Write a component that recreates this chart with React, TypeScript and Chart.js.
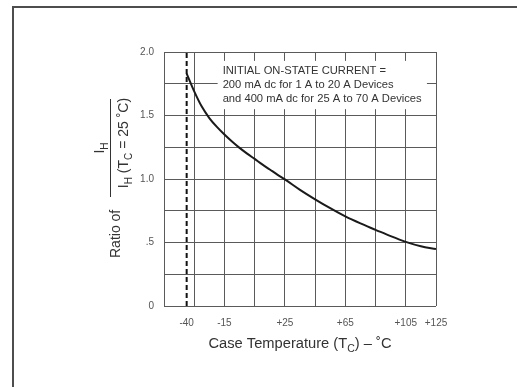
import React, { useEffect, useRef } from "react";
import { Chart, registerables } from "chart.js";

Chart.register(...registerables);

const temps = [-40, -35, -30, -25, -20, -15, -10, -5, 0, 5, 10, 15, 20, 25, 35, 45, 55, 65, 75, 85, 95, 105, 115, 125];
const ratios = [1.83, 1.69, 1.57, 1.48, 1.41, 1.35, 1.295, 1.245, 1.2, 1.158, 1.115, 1.075, 1.035, 0.997, 0.915, 0.84, 0.77, 0.705, 0.65, 0.6, 0.55, 0.505, 0.47, 0.448];

const xGridValues = [-55, -35, -15, 5, 25, 45, 65, 85, 105, 125];
const xTickValues = [-40, -15, 25, 65, 105, 125];
const xTickLabels = ["-40", "-15", "+25", "+65", "+105", "+125"];
const yTickValues = [0, 0.5, 1.0, 1.5, 2.0];
const yTickLabels = ["0", ".5", "1.0", "1.5", "2.0"];
const dashedTemp = -40;
const noteLines = [
  "INITIAL ON-STATE CURRENT =",
  "200 mA dc for 1 A to 20 A Devices",
  "and 400 mA dc for 25 A to 70 A Devices",
];

const FONT = "'Liberation Sans', Arial, Helvetica, sans-serif";

const decorPlugin = {
  id: "decor",
  beforeDatasetsDraw(chart: any) {
    const ctx = chart.ctx;
    const xs = chart.scales.x;
    const ys = chart.scales.y;
    ctx.save();
    const left = xs.getPixelForValue(-19.5);
    const right = xs.getPixelForValue(119);
    const top = ys.getPixelForValue(1.93);
    const bottom = ys.getPixelForValue(1.55);
    ctx.fillStyle = "#ffffff";
    ctx.fillRect(left, top, right - left, bottom - top);
    ctx.fillStyle = "#333";
    ctx.font = `11.2px ${FONT}`;
    ctx.textBaseline = "alphabetic";
    ctx.textAlign = "left";
    const tx = xs.getPixelForValue(-16.2);
    noteLines.forEach((l, i) => {
      ctx.fillText(l, tx, top + 13.5 + i * 14);
    });
    ctx.restore();
  },
  afterDraw(chart: any) {
    const ctx = chart.ctx;
    ctx.save();
    ctx.strokeStyle = "#4d4d4d";
    ctx.lineWidth = 2;
    ctx.beginPath();
    ctx.moveTo(13, 387);
    ctx.lineTo(13, 7);
    ctx.lineTo(517, 7);
    ctx.stroke();

    ctx.fillStyle = "#333";
    ctx.textBaseline = "alphabetic";
    ctx.textAlign = "left";
    const big = `14px ${FONT}`;
    const xbig = `14.7px ${FONT}`;
    const small = `10px ${FONT}`;
    const xsmall = `10.5px ${FONT}`;
    const drawRow = (segs: [string, string, number][], cx: number, base: number) => {
      let tw = 0;
      segs.forEach(([t, f]) => {
        ctx.font = f;
        tw += ctx.measureText(t).width;
      });
      let u = cx - tw / 2;
      segs.forEach(([t, f, dy]) => {
        ctx.font = f;
        ctx.fillText(t, u, base + dy);
        u += ctx.measureText(t).width;
      });
    };
    drawRow(
      [
        ["Case Temperature (T", xbig, 0],
        ["C", xsmall, 4],
        [") \u2013 \u02daC", xbig, 0],
      ],
      300,
      348
    );

    ctx.rotate(-Math.PI / 2);
    ctx.font = big;
    ctx.fillText("Ratio of", -258, 120);
    ctx.strokeStyle = "#333";
    ctx.lineWidth = 1;
    ctx.beginPath();
    ctx.moveTo(-197, 110.5);
    ctx.lineTo(-99, 110.5);
    ctx.stroke();
    drawRow([["I", big, 0], ["H", small, 4]], -148, 104);
    drawRow(
      [["I", big, 0], ["H", small, 4], [" (T", big, 0], ["C", small, 4], [" = 25 \u02daC)", big, 0]],
      -143,
      128
    );
    ctx.restore();
  },
};

export default function App() {
  const ref = useRef<HTMLCanvasElement>(null);
  useEffect(() => {
    if (!ref.current) return;
    const chart = new Chart(ref.current, {
      type: "scatter",
      data: {
        datasets: [
          {
            data: temps.map((t, i) => ({ x: t, y: ratios[i] })),
            showLine: true,
            borderColor: "#1a1a1a",
            borderWidth: 2,
            pointRadius: 0,
            cubicInterpolationMode: "monotone",
          },
          {
            data: [
              { x: dashedTemp, y: 0 },
              { x: dashedTemp, y: 2 },
            ],
            showLine: true,
            borderColor: "#111",
            borderWidth: 2,
            borderDash: [5, 3],
            pointRadius: 0,
          },
        ],
      } as any,
      options: {
        responsive: false,
        animation: false,
        layout: { padding: { left: 0, top: 52, right: 81, bottom: 0 } },
        plugins: { legend: { display: false }, tooltip: { enabled: false } },
        scales: {
          x: {
            type: "linear",
            min: -55,
            max: 125,
            position: "bottom",
            afterBuildTicks: (s: any) => {
              s.ticks = xGridValues.map((v) => ({ value: v }));
            },
            afterFit: (s: any) => {
              s.height = 0;
            },
            grid: { color: "#5a5a5a", lineWidth: 1, drawTicks: false },
            border: { display: false },
            ticks: { display: false },
          },
          x2: {
            type: "linear",
            min: -55,
            max: 125,
            position: "bottom",
            afterBuildTicks: (s: any) => {
              s.ticks = xTickValues.map((v) => ({ value: v }));
            },
            afterFit: (s: any) => {
              s.height = 81;
            },
            grid: { display: false, drawTicks: false },
            border: { display: false },
            ticks: {
              padding: 11,
              color: "#555",
              font: { family: FONT, size: 10 },
              maxRotation: 0,
              autoSkip: false,
              callback: (v: any) => {
                const i = xTickValues.indexOf(Number(v));
                return i >= 0 ? xTickLabels[i] : "";
              },
            },
          },
          y: {
            type: "linear",
            min: 0,
            max: 2,
            afterBuildTicks: (s: any) => {
              const t = [];
              for (let v = 0; v <= 2.0001; v += 0.25) t.push({ value: Math.round(v * 100) / 100 });
              s.ticks = t;
            },
            afterFit: (s: any) => {
              s.width = 164;
            },
            grid: { color: "#5a5a5a", lineWidth: 1, drawTicks: false },
            border: { display: false },
            ticks: {
              padding: 10,
              color: "#555",
              font: { family: FONT, size: 10 },
              autoSkip: false,
              callback: (v: any) => {
                const i = yTickValues.indexOf(Number(v));
                return i >= 0 ? yTickLabels[i] : "";
              },
            },
          },
        },
      } as any,
      plugins: [decorPlugin],
    });
    return () => chart.destroy();
  }, []);
  return (
    <div style={{ position: "absolute", left: 0, top: 0, width: 517, height: 387, background: "#fff" }}>
      <canvas ref={ref} width={517} height={387} style={{ width: 517, height: 387 }} />
    </div>
  );
}
